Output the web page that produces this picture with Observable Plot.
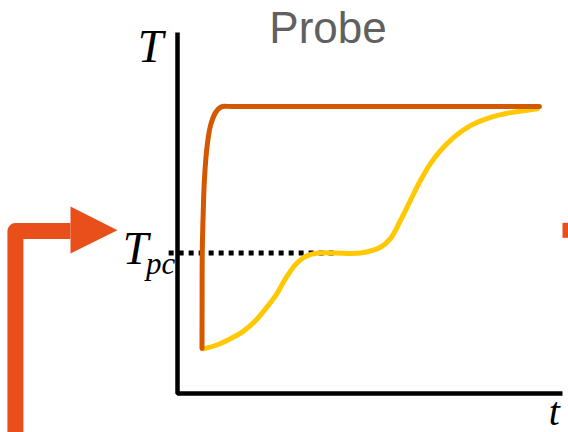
<!DOCTYPE html>
<html>
<head>
<meta charset="utf-8">
<script src="https://cdn.jsdelivr.net/npm/d3@7"></script>
<script src="https://cdn.jsdelivr.net/npm/@observablehq/plot@0.6"></script>
<style>
  html, body { margin: 0; padding: 0; background: white; overflow: hidden; }
  svg { display: block; }
</style>
</head>
<body>
<div id="chart"></div>
<script>
// ---- data (arbitrary units: t 0..100, T 0..100) ----
const title = "Probe";
const yLabel = "T";
const xLabel = "t";
const refLabel = "T";
const refSub = "pc";
const Tpc = 38.9;

// fast (dark orange) response
const fastTime = [6.36, 6.39, 6.44, 6.68, 7.01, 7.71, 8.57, 9.87, 10.9, 11.7, 14.0, 30.0, 60.0, 94.0];
const fastTemp = [12.5, 25.8, 39.6, 50.1, 59.6, 68.7, 74.2, 77.8, 79.1, 79.5, 79.5, 79.5, 79.5, 79.5];

// slow (yellow) response with plateau at Tpc
const slowTime = [6.75, 9.87, 13.25, 16.8, 20.3, 22.9, 25.5, 28.05, 30.65, 33.25, 36.6, 41.0, 47.5, 52.7, 55.3, 57.9, 60.5, 63.1, 65.7, 68.3, 71.7, 76.1, 81.3, 86.5, 93.5];
const slowTemp = [12.4, 13.3, 14.9, 17.0, 20.2, 23.5, 27.1, 31.8, 35.7, 37.95, 38.9, 38.9, 38.9, 40.5, 42.9, 47.9, 53.5, 59.0, 63.7, 67.3, 70.9, 74.2, 76.5, 77.8, 78.9];

// dotted reference line extent (t)
const refLineT = [-2.3, 41.6];

// decorative arrows (in the same t/T units)
const arrowShaftT = [-42.1, -42.1, -27.8];
const arrowShaftY = [-12, 45.0, 45.0];
const arrowHeadT = [-27.8, -15.6, -27.8, -27.8];
const arrowHeadY = [51.8, 45.2, 38.8, 51.8];
const rightArrowT = [100, 106];
const rightArrowY = [45.2, 45.2];

const zip = (xs, ys) => xs.map((x, i) => ({x, y: ys[i]}));

const chart = Plot.plot({
  width: 568,
  height: 432,
  marginLeft: 177,
  marginRight: 6,
  marginTop: 32,
  marginBottom: 39,
  x: {domain: [0, 100], axis: null},
  y: {domain: [0, 100], axis: null},
  style: {background: "white", overflow: "visible"},
  marks: [
    // arrows
    Plot.line(zip(arrowShaftT, arrowShaftY), {x: "x", y: "y", stroke: "#e84f1b", strokeWidth: 16, strokeLinejoin: "round", strokeLinecap: "butt"}),
    Plot.line(zip(arrowHeadT, arrowHeadY), {x: "x", y: "y", fill: "#e84f1b", stroke: "none", curve: "linear"}),
    Plot.line(zip(rightArrowT, rightArrowY), {x: "x", y: "y", stroke: "#e84f1b", strokeWidth: 15, strokeLinecap: "butt"}),
    // dotted Tpc line
    Plot.line(zip(refLineT, [Tpc, Tpc]), {x: "x", y: "y", stroke: "black", strokeWidth: 5, strokeDasharray: "5,5", strokeLinecap: "butt"}),
    // axes
    Plot.line(zip([0, 0, 100], [100, 0, 0]), {x: "x", y: "y", stroke: "black", strokeWidth: 4.5, strokeLinejoin: "miter", strokeLinecap: "butt"}),
    // curves
    Plot.line(zip(slowTime, slowTemp), {x: "x", y: "y", stroke: "#ffc800", strokeWidth: 5, curve: "catmull-rom"}),
    Plot.line(zip(fastTime, fastTemp), {x: "x", y: "y", stroke: "#d45800", strokeWidth: 5, curve: "catmull-rom"}),
    // texts
    Plot.text([title], {x: 39.1, y: 97.2, text: d => d, lineAnchor: "bottom", textAnchor: "middle", fontSize: 44, fontFamily: "Liberation Sans, Arial, sans-serif", fill: "#606060"}),
    Plot.text([yLabel], {x: -7.0, y: 91.7, text: d => d, lineAnchor: "bottom", textAnchor: "middle", fontSize: 46, fontFamily: "Liberation Serif, Times New Roman, serif", fontStyle: "italic", fill: "black"}),
    Plot.text([refLabel], {x: -10.9, y: 36.0, text: d => d, lineAnchor: "bottom", textAnchor: "middle", fontSize: 46, fontFamily: "Liberation Serif, Times New Roman, serif", fontStyle: "italic", fill: "black"}),
    Plot.text([refSub], {x: -4.4, y: 33.2, text: d => d, lineAnchor: "bottom", textAnchor: "middle", fontSize: 31, fontFamily: "Liberation Serif, Times New Roman, serif", fontStyle: "italic", fill: "black"}),
    Plot.text([xLabel], {x: 97.9, y: -8.6, text: d => d, lineAnchor: "bottom", textAnchor: "middle", fontSize: 40, fontFamily: "Liberation Serif, Times New Roman, serif", fontStyle: "italic", fill: "black"})
  ]
});
document.getElementById("chart").appendChild(chart);
</script>
</body>
</html>
